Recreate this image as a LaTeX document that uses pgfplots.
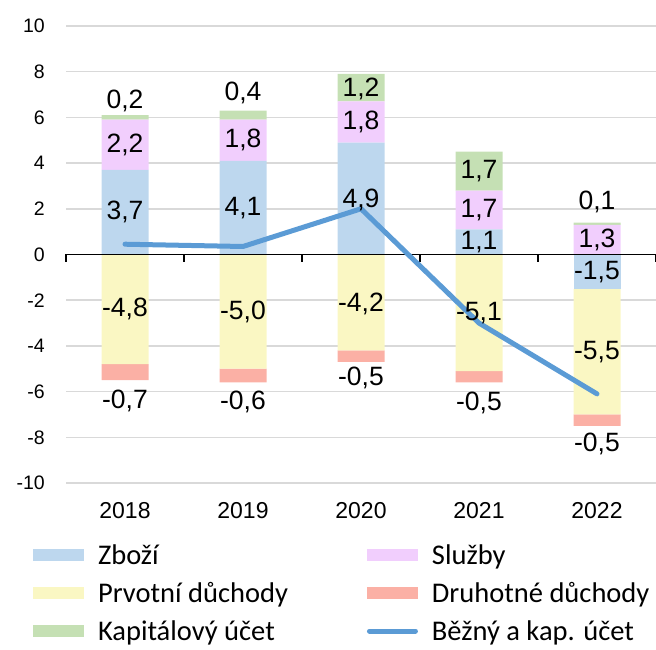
\documentclass[border=0pt]{standalone}
\usepackage{pgfplots}
\pgfplotsset{compat=1.18}
\usepackage{fontspec}
\setmainfont{Liberation Sans}
\newfontfamily\legfont{Carlito}
\definecolor{zbozi}{RGB}{189,215,238}
\definecolor{sluzby}{RGB}{241,206,253}
\definecolor{prvotni}{RGB}{250,247,195}
\definecolor{druhotne}{RGB}{251,176,165}
\definecolor{kapital}{RGB}{197,224,180}
\definecolor{linec}{RGB}{91,155,213}
\definecolor{gridc}{RGB}{217,217,217}
\pgfplotsset{
  base/.style={scale only axis, width=590pt, height=457pt, at={(66pt,167pt)}, anchor=south west,
    xmin=-0.5, xmax=4.5, ymin=-10, ymax=10},
  barlegend/.style={legend image code/.code={\fill[##1] (0pt,-6pt) rectangle (51pt,6pt);}},
  linelegend/.style={legend image code/.code={\draw[##1] (2.5pt,0pt) -- (48.5pt,0pt);}},
}
\begin{document}
\begin{tikzpicture}
\path[use as bounding box] (0pt,0pt) rectangle (656pt,650pt);
% positive parts
\begin{axis}[base, ybar stacked, bar width=47pt,
  axis line style={draw=none}, major tick length=0pt,
  ytick={-10,-8,...,10}, xtick={0,1,2,3,4}, xticklabels={2018,2019,2020,2021,2022},
  ymajorgrids, grid style={draw=gridc, line width=1.5pt},
  /pgf/number format/assume math mode=true,
  yticklabel style={anchor=east, inner sep=0pt, xshift=-21pt, font=\fontsize{19.5}{21}\selectfont},
  xticklabel style={anchor=north, inner sep=0pt, yshift=-19pt, font=\fontsize{23}{25}\selectfont}]
\addplot[fill=zbozi, draw=none] coordinates {(0,3.7) (1,4.1) (2,4.9) (3,1.1) (4,0)};
\addplot[fill=sluzby, draw=none] coordinates {(0,2.2) (1,1.8) (2,1.8) (3,1.7) (4,1.3)};
\addplot[fill=kapital, draw=none] coordinates {(0,0.2) (1,0.4) (2,1.2) (3,1.7) (4,0.1)};
\end{axis}
% negative parts
\begin{axis}[base, ybar stacked, bar width=47pt, hide axis]
\addplot[fill=zbozi, draw=none] coordinates {(0,0) (1,0) (2,0) (3,0) (4,-1.5)};
\addplot[fill=prvotni, draw=none] coordinates {(0,-4.8) (1,-5.0) (2,-4.2) (3,-5.1) (4,-5.5)};
\addplot[fill=druhotne, draw=none] coordinates {(0,-0.7) (1,-0.6) (2,-0.5) (3,-0.5) (4,-0.5)};
\end{axis}
% axis line, line series, labels, legend
\begin{axis}[base, hide axis, clip=false,
  legend columns=2, legend cell align=left,
  legend style={at={(-0.0559,-0.1335)}, anchor=north west, draw=none, fill=none,
    inner sep=0pt, outer sep=0pt, font=\legfont\fontsize{28.5}{31}\selectfont,
    row sep=16pt,
    /tikz/every odd column/.append style={column sep=14pt},
    /tikz/every even column/.append style={column sep=79pt},
    nodes={inner sep=0pt, anchor=west, text height=20pt, text depth=2pt}}]
\draw[black, line width=1.3pt] (axis cs:-0.5,0) -- (axis cs:4.5,0);
\draw[black, line width=1.3pt] (axis cs:-0.5,0) -- ++(0pt,-8pt);
\draw[black, line width=1.3pt] (axis cs:0.5,0) -- ++(0pt,-8pt);
\draw[black, line width=1.3pt] (axis cs:1.5,0) -- ++(0pt,-8pt);
\draw[black, line width=1.3pt] (axis cs:2.5,0) -- ++(0pt,-8pt);
\draw[black, line width=1.3pt] (axis cs:3.5,0) -- ++(0pt,-8pt);
\draw[black, line width=1.3pt] (axis cs:4.5,0) -- ++(0pt,-8pt);
\addplot[color=linec, line width=5pt, line cap=round, line join=round, mark=none, forget plot]
  coordinates {(0,0.45) (1,0.35) (2,2.0) (3,-3.0) (4,-6.1)};
\addplot[only marks, mark=*, mark size=0pt, mark options={draw opacity=0, fill opacity=0}, forget plot,
  point meta=explicit symbolic, nodes near coords, nodes near coords align=center,
  every node near coord/.style={font=\fontsize{26.5}{28}\selectfont, anchor=center, inner sep=0pt, text=black, text opacity=1}]
  table[meta=lab, row sep=\\] {
  x y lab \\
  0 1.85 3,7 \\
  1 2.05 4,1 \\
  2 2.40 4,9 \\
  3 0.55 1,1 \\
  4 -0.75 -1,5 \\
  0 4.80 2,2 \\
  1 5.00 1,8 \\
  2 5.80 1,8 \\
  3 1.95 1,7 \\
  4 0.65 1,3 \\
  0 6.74 0,2 \\
  1 7.09 0,4 \\
  2 7.25 1,2 \\
  3 3.65 1,7 \\
  4 2.28 0,1 \\
  0 -2.40 -4,8 \\
  1 -2.50 -5,0 \\
  2 -2.15 -4,2 \\
  3 -2.55 -5,1 \\
  4 -4.25 -5,5 \\
  0 -6.40 -0,7 \\
  1 -6.45 -0,6 \\
  2 -5.40 -0,5 \\
  3 -6.50 -0,5 \\
  4 -8.30 -0,5 \\
  };
\addlegendimage{barlegend, fill=zbozi, draw=none}
\addlegendentry{Zboží}
\addlegendimage{barlegend, fill=sluzby, draw=none}
\addlegendentry{Služby}
\addlegendimage{barlegend, fill=prvotni, draw=none}
\addlegendentry{Prvotní důchody}
\addlegendimage{barlegend, fill=druhotne, draw=none}
\addlegendentry{Druhotné důchody}
\addlegendimage{barlegend, fill=kapital, draw=none}
\addlegendentry{Kapitálový účet}
\addlegendimage{linelegend, color=linec, line width=5pt, line cap=round}
\addlegendentry{Běžný a kap. účet}
\end{axis}
\end{tikzpicture}
\end{document}
